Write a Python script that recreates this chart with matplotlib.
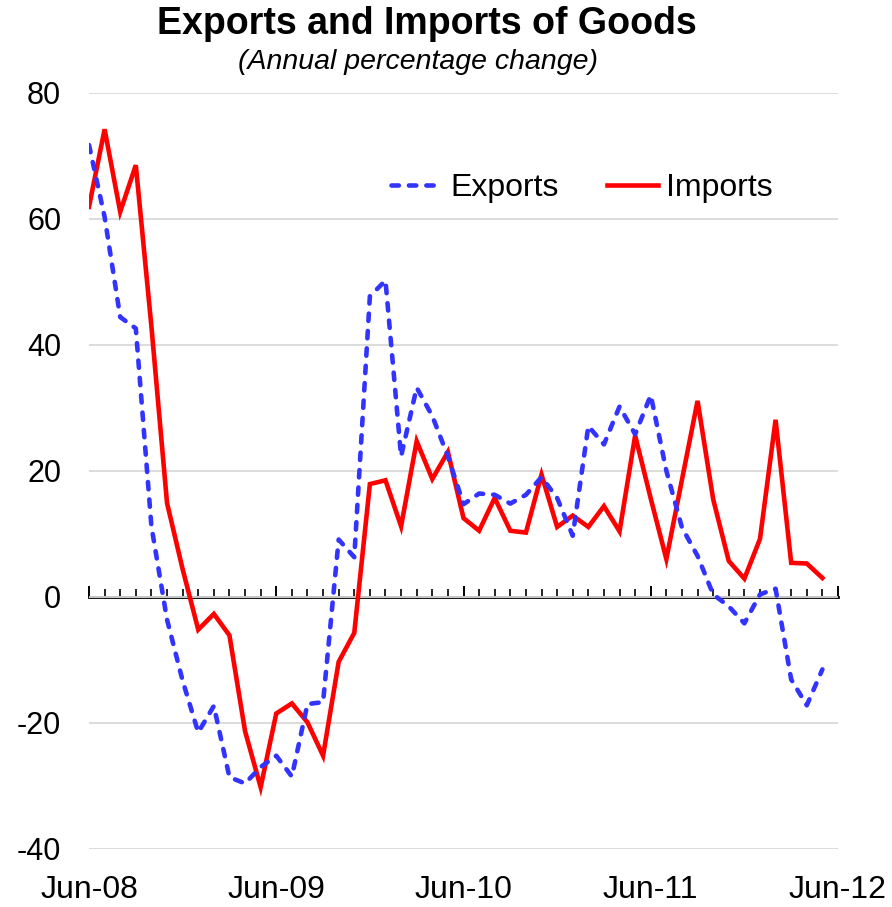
import numpy as np
import matplotlib
matplotlib.use("Agg")
import matplotlib.pyplot as plt
from matplotlib.ticker import MultipleLocator, FixedLocator

plt.rcParams['font.family'] = ['Liberation Sans', 'DejaVu Sans']
plt.rcParams['axes.unicode_minus'] = False

# monthly annual % change, Jun-08 .. May-12
exports = [71.7, 60.3, 44.4, 42.6, 11.2, -3.6, -13.3, -21.5, -17.3, -28.6,
           -29.6, -27.0, -25.2, -28.5, -17.0, -16.7, 9.1, 6.3, 47.7, 50.2,
           22.3, 33.2, 28.7, 22.3, 14.7, 16.4, 16.2, 14.8, 16.2, 19.0,
           15.7, 9.7, 27.1, 24.2, 30.2, 25.8, 32.0, 20.0, 11.0, 6.5,
           0.4, -1.5, -4.2, 0.4, 1.3, -13.1, -17.2, -11.5]
imports = [61.9, 74.2, 61.1, 68.5, 42.9, 14.9, 4.4, -5.2, -2.7, -6.1,
           -21.3, -30.2, -18.5, -16.9, -19.9, -25.2, -10.3, -5.7, 17.9, 18.5,
           11.2, 24.7, 18.7, 23.0, 12.5, 10.5, 15.7, 10.5, 10.2, 19.4,
           11.1, 12.9, 11.1, 14.4, 10.4, 25.6, 15.6, 6.0, 18.6, 31.1,
           15.5, 5.7, 2.9, 9.2, 28.1, 5.4, 5.3, 3.0]
year_labels = ['Jun-08', 'Jun-09', 'Jun-10', 'Jun-11', 'Jun-12']

months = np.arange(len(exports))

fig = plt.figure(figsize=(8.92, 9.07), dpi=100)
ax = fig.add_axes([89 / 892, 1 - 849 / 907, (838 - 89) / 892, (849 - 92.7) / 907])

line_imp, = ax.plot(months, imports, color='#ff0000', lw=3.3, zorder=3,
                    solid_joinstyle='miter', label='Imports')
line_exp, = ax.plot(months, exports, color='#3333ff', lw=3.3, zorder=4,
                    linestyle=(0, (1.6, 2.2)), dash_capstyle='round',
                    label='Exports')

ax.set_xlim(0, 48)
ax.set_ylim(-40, 80)
ax.yaxis.set_major_locator(MultipleLocator(20))
ax.yaxis.grid(True, color='#d9d9d9', lw=1.3)
ax.set_axisbelow(True)
for s in ax.spines.values():
    s.set_visible(False)

ax.tick_params(axis='y', length=0, labelsize=22, pad=20)
ax.xaxis.set_major_locator(FixedLocator([0, 12, 24, 36, 48]))
ax.set_xticklabels(year_labels)
ax.tick_params(axis='x', length=0, labelsize=23, pad=19)

# zero line with monthly tick marks pointing up
zero_ax = ax.secondary_xaxis(40 / 120)
zero_ax.spines['bottom'].set_linewidth(2.0)
zero_ax.xaxis.set_major_locator(MultipleLocator(12))
zero_ax.xaxis.set_minor_locator(MultipleLocator(1))
zero_ax.tick_params(which='major', direction='in', length=8, width=1.4, labelbottom=False)
zero_ax.tick_params(which='minor', direction='in', length=5.5, width=1.2)

ax.legend(handles=[line_exp, line_imp], loc='center', ncol=2, frameon=False,
          fontsize=23, handlelength=1.6, handletextpad=0.25, columnspacing=1.5,
          bbox_to_anchor=(582 / 892, 1 - 188 / 907), bbox_transform=fig.transFigure)

fig.text(427 / 892, 1 - 24 / 907, 'Exports and Imports of Goods',
         ha='center', va='center', fontsize=27, fontweight='bold')
fig.text(418 / 892, 1 - 62 / 907, '(Annual percentage change)',
         ha='center', va='center', fontsize=20.5, style='italic')

fig.savefig('out.png', dpi=100)
